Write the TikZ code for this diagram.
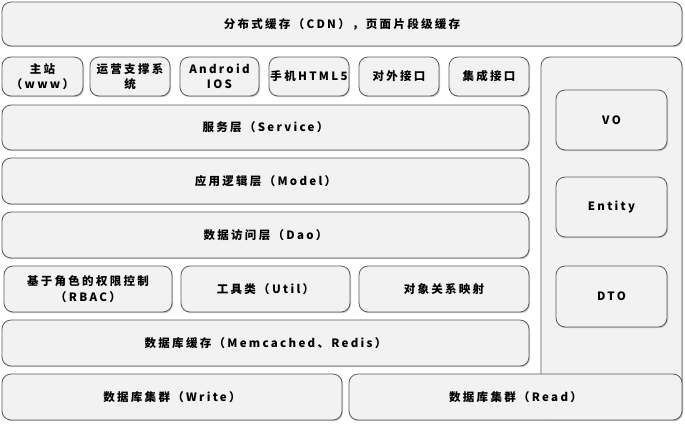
\documentclass[tikz,border=0pt]{standalone}
\usepackage{fontspec}
\setmainfont{Noto Sans CJK SC}[LetterSpace=20]
\usetikzlibrary{shadows}

\tikzset{
	layer/.style={draw=black!65, fill=black!5, rounded corners=9pt, line width=0.8pt,
		drop shadow={shadow xshift=1pt, shadow yshift=-1.2pt, fill=black!35, opacity=0.6},
		font=\bfseries\fontsize{11.5}{15.5}\selectfont, align=center, inner sep=0pt},
}

\begin{document}
\begin{tikzpicture}[x=1pt,y=-1pt]
	\useasboundingbox (0,0) rectangle (685,424);
	% top
	\node[layer, minimum width=680, minimum height=44] (cdn) at (342,24) {分布式缓存（CDN），页面片段级缓存};
	% clients
	\node[layer, minimum width=81, minimum height=39] (www) at (42.5,76.5) {主站\\（www）};
	\node[layer, minimum width=80, minimum height=39] (ops) at (130,76.5) {运营支撑系\\统};
	\node[layer, minimum width=79, minimum height=39] (android) at (219.5,76.5) {Android\\IOS};
	\node[layer, minimum width=80, minimum height=39] (html5) at (309,76.5) {手机HTML5};
	\node[layer, minimum width=80, minimum height=39] (ext) at (399,76.5) {对外接口};
	\node[layer, minimum width=80, minimum height=39] (integ) at (489,76.5) {集成接口};
	% right panel
	\node[layer, minimum width=141, minimum height=362] (panel) at (611.5,238) {};
	\node[layer, minimum width=111, minimum height=60] (vo) at (611.5,120) {VO};
	\node[layer, minimum width=111, minimum height=60] (entity) at (611.5,207) {Entity};
	\node[layer, minimum width=111, minimum height=61] (dto) at (611.5,296.5) {DTO};
	% layers
	\node[layer, minimum width=527, minimum height=45] (service) at (265.5,127.5) {服务层（Service）};
	\node[layer, minimum width=527, minimum height=46] (model) at (265.5,181) {应用逻辑层（Model）};
	\node[layer, minimum width=527, minimum height=46] (dao) at (265.5,235) {数据访问层（Dao）};
	\node[layer, minimum width=168, minimum height=46] (rbac) at (88,289) {基于角色的权限控制\\（RBAC）};
	\node[layer, minimum width=169, minimum height=46] (util) at (265.5,289) {工具类（Util）};
	\node[layer, minimum width=170, minimum height=46] (orm) at (444,289) {对象关系映射};
	\node[layer, minimum width=527, minimum height=46] (memc) at (265.5,343) {数据库缓存（Memcached、Redis）};
	% db
	\node[layer, minimum width=340, minimum height=46] (write) at (172,397) {数据库集群（Write）};
	\node[layer, minimum width=333, minimum height=46] (read) at (515.5,397) {数据库集群（Read）};
\end{tikzpicture}
\end{document}
